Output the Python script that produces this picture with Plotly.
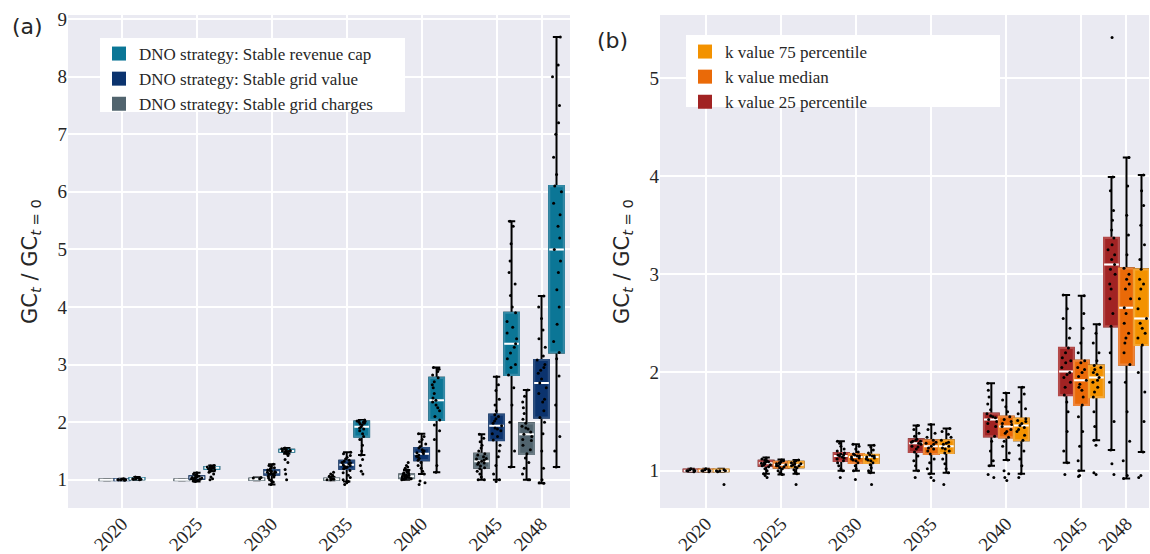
import plotly.graph_objects as go

# ---------------- data ----------------
years = [2020, 2025, 2030, 2035, 2040, 2045, 2048]
tick_labels = ["2020", "2025", "2030", "2035", "2040", "2045", "2048"]

# Panel (a) -- DNO strategy: Stable grid charges
charges_q1 = [0.995, 0.995, 1.00, 1.00, 1.03, 1.21, 1.45]
charges_med = [1.00, 1.00, 1.01, 1.01, 1.06, 1.32, 1.79]
charges_q3 = [1.005, 1.005, 1.02, 1.02, 1.09, 1.45, 1.98]
charges_lf = [0.99, 0.99, 0.99, 0.99, 1.00, 1.00, 1.00]
charges_uf = [1.01, 1.01, 1.04, 1.05, 1.17, 1.79, 2.56]
charges_pts = [
    [],
    [],
    [1.03, 1.04, 1.02],
    [1.0, 1.01, 1.02, 1.03, 1.06, 1.08, 1.1, 1.13, 1.01, 1.0],
    [1.0, 1.01, 1.02, 1.03, 1.03, 1.04, 1.05, 1.05, 1.06, 1.06, 1.07, 1.08, 1.08, 1.09,
     1.1, 1.11, 1.12, 1.14, 1.15, 1.17, 1.2, 1.22, 1.25, 1.3, 1.02, 1.04],
    [1.0, 1.0, 1.05, 1.1, 1.15, 1.19, 1.21, 1.24, 1.27, 1.3, 1.32, 1.34, 1.37, 1.4, 1.43,
     1.45, 1.5, 1.55, 1.6, 1.66, 1.72, 1.79, 1.29, 1.36],
    [1.0, 1.0, 1.1, 1.2, 1.3, 1.38, 1.45, 1.52, 1.6, 1.68, 1.75, 1.79, 1.83, 1.88, 1.93,
     1.98, 2.05, 2.15, 2.25, 2.35, 2.45, 2.56, 1.7, 1.9],
]

# Panel (a) -- DNO strategy: Stable grid value
value_q1 = [0.995, 1.02, 1.09, 1.19, 1.34, 1.69, 2.08]
value_med = [1.00, 1.04, 1.13, 1.26, 1.45, 1.94, 2.68]
value_q3 = [1.01, 1.06, 1.17, 1.33, 1.55, 2.13, 3.08]
value_lf = [0.99, 0.97, 0.92, 0.97, 1.10, 1.00, 0.94]
value_uf = [1.02, 1.12, 1.27, 1.48, 1.80, 2.79, 4.19]
value_pts = [
    [1.0, 1.0, 1.01, 1.0, 0.99, 1.01, 1.02, 1.0],
    [0.97, 0.98, 1.0, 1.01, 1.02, 1.02, 1.03, 1.04, 1.04, 1.05, 1.06, 1.07, 1.08, 1.1,
     1.12, 0.99, 1.03],
    [0.92, 0.96, 0.98, 1.0, 1.03, 1.06, 1.08, 1.09, 1.1, 1.11, 1.12, 1.13, 1.14, 1.15,
     1.16, 1.17, 1.19, 1.21, 1.23, 1.25, 1.27, 1.1, 1.13, 1.05],
    [0.92, 0.95, 0.97, 1.0, 1.04, 1.08, 1.12, 1.16, 1.19, 1.21, 1.23, 1.25, 1.26, 1.28,
     1.3, 1.32, 1.34, 1.36, 1.39, 1.42, 1.45, 1.48, 1.22, 1.29],
    [0.92, 0.95, 0.98, 1.1, 1.15, 1.2, 1.25, 1.3, 1.34, 1.37, 1.4, 1.43, 1.45, 1.47, 1.5,
     1.52, 1.55, 1.58, 1.62, 1.66, 1.7, 1.75, 1.8, 1.41, 1.48],
    [0.97, 1.0, 1.1, 1.25, 1.4, 1.5, 1.6, 1.69, 1.75, 1.8, 1.85, 1.9, 1.94, 1.98, 2.02,
     2.06, 2.1, 2.13, 2.2, 2.3, 2.4, 2.55, 2.65, 2.79, 1.88],
    [0.94, 0.95, 1.0, 1.2, 1.5, 1.8, 2.0, 2.08, 2.2, 2.35, 2.5, 2.6, 2.68, 2.75, 2.85,
     2.95, 3.0, 3.08, 3.15, 3.3, 3.45, 3.6, 3.8, 4.0, 4.19, 2.4, 2.9],
]

# Panel (a) -- DNO strategy: Stable revenue cap
revcap_q1 = [1.01, 1.19, 1.49, 1.75, 2.04, 2.82, 3.21]
revcap_med = [1.02, 1.21, 1.50, 1.92, 2.38, 3.36, 5.00]
revcap_q3 = [1.03, 1.22, 1.52, 2.01, 2.77, 3.90, 6.10]
revcap_lf = [1.00, 1.15, 1.45, 1.43, 1.13, 1.22, 1.22]
revcap_uf = [1.05, 1.25, 1.55, 2.04, 2.95, 5.49, 8.69]
revcap_pts = [
    [1.0, 1.01, 1.02, 1.03, 1.04, 1.05, 1.02, 1.01, 1.03],
    [1.0, 1.02, 1.05, 1.1, 1.13, 1.15, 1.17, 1.19, 1.2, 1.21, 1.21, 1.22, 1.22, 1.23,
     1.24, 1.25, 1.2, 1.18],
    [1.0, 1.1, 1.18, 1.3, 1.35, 1.42, 1.45, 1.47, 1.49, 1.5, 1.5, 1.51, 1.52, 1.53, 1.54,
     1.55, 1.5, 1.48],
    [1.1, 1.15, 1.25, 1.35, 1.43, 1.5, 1.6, 1.7, 1.75, 1.8, 1.85, 1.88, 1.92, 1.95, 1.98,
     2.0, 2.01, 2.02, 2.03, 2.04, 2.0, 1.97, 1.9],
    [1.13, 1.25, 1.5, 1.7, 1.85, 1.95, 2.04, 2.1, 2.2, 2.3, 2.35, 2.38, 2.42, 2.5, 2.6,
     2.7, 2.77, 2.82, 2.88, 2.92, 2.95, 2.93, 2.25, 2.65],
    [1.22, 1.5, 2.0, 2.3, 2.6, 2.82, 2.95, 3.1, 3.2, 3.3, 3.36, 3.45, 3.55, 3.65, 3.75,
     3.9, 4.0, 4.2, 4.4, 4.6, 4.8, 5.1, 5.4, 5.49, 3.0],
    [1.22, 1.5, 1.75, 2.3, 2.8, 3.1, 3.21, 3.4, 3.7, 4.0, 4.3, 4.6, 4.8, 5.0, 5.2, 5.4,
     5.6, 5.8, 6.0, 6.1, 6.3, 6.6, 7.0, 7.2, 7.5, 8.0, 8.2, 8.69],
]

# Panel (b) -- k value 25 percentile
k25_q1 = [0.995, 1.05, 1.10, 1.19, 1.35, 1.77, 2.47]
k25_med = [1.00, 1.075, 1.15, 1.28, 1.52, 2.01, 3.10]
k25_q3 = [1.01, 1.10, 1.18, 1.32, 1.58, 2.25, 3.37]
k25_lf = [0.99, 0.97, 1.00, 1.00, 1.05, 1.08, 1.21]
k25_uf = [1.02, 1.135, 1.30, 1.46, 1.89, 2.79, 3.99]
k25_pts = [
    [1.0, 1.0, 1.01, 0.99, 1.01, 1.0, 1.02],
    [0.93, 0.95, 0.97, 1.0, 1.02, 1.04, 1.05, 1.06, 1.07, 1.075, 1.08, 1.09, 1.1, 1.11,
     1.12, 1.13, 1.06, 1.09],
    [0.93, 1.0, 1.02, 1.05, 1.08, 1.1, 1.12, 1.14, 1.15, 1.16, 1.17, 1.18, 1.2, 1.22,
     1.25, 1.28, 1.3, 1.13, 1.16],
    [0.93, 1.0, 1.05, 1.1, 1.15, 1.19, 1.22, 1.25, 1.27, 1.28, 1.29, 1.3, 1.31, 1.32,
     1.35, 1.38, 1.42, 1.46, 1.24, 1.3],
    [0.93, 0.96, 1.05, 1.1, 1.2, 1.3, 1.35, 1.4, 1.45, 1.5, 1.52, 1.54, 1.56, 1.58, 1.62,
     1.68, 1.75, 1.82, 1.89, 1.48, 1.55],
    [0.96, 1.08, 1.2, 1.4, 1.6, 1.7, 1.77, 1.85, 1.9, 1.95, 2.0, 2.05, 2.1, 2.15, 2.2,
     2.25, 2.35, 2.45, 2.55, 2.65, 2.79, 1.98, 2.12],
    [0.96, 1.07, 1.21, 1.5, 1.9, 2.2, 2.47, 2.6, 2.75, 2.9, 3.0, 3.1, 3.15, 3.2, 3.25,
     3.3, 3.37, 3.45, 3.55, 3.65, 3.85, 3.99, 5.41, 2.85, 3.05],
]

# Panel (b) -- k value median
k50_q1 = [0.995, 1.03, 1.08, 1.17, 1.34, 1.67, 2.08]
k50_med = [1.00, 1.06, 1.14, 1.25, 1.45, 1.92, 2.66]
k50_q3 = [1.01, 1.09, 1.17, 1.31, 1.55, 2.12, 3.06]
k50_lf = [0.99, 0.96, 1.00, 0.97, 1.11, 1.00, 0.92]
k50_uf = [1.02, 1.115, 1.27, 1.47, 1.79, 2.78, 4.19]
k50_pts = [
    [1.0, 1.0, 1.01, 0.99, 1.0, 1.01, 1.02],
    [0.96, 0.98, 1.0, 1.02, 1.03, 1.04, 1.05, 1.06, 1.07, 1.08, 1.09, 1.1, 1.11, 1.05,
     1.07],
    [0.91, 1.0, 1.02, 1.05, 1.08, 1.1, 1.12, 1.13, 1.14, 1.15, 1.16, 1.17, 1.19, 1.22,
     1.25, 1.27, 1.11, 1.15],
    [0.9, 0.93, 0.97, 1.02, 1.08, 1.12, 1.17, 1.2, 1.23, 1.25, 1.27, 1.29, 1.31, 1.34,
     1.38, 1.42, 1.47, 1.22, 1.28],
    [0.9, 0.93, 0.97, 1.0, 1.11, 1.18, 1.25, 1.3, 1.34, 1.38, 1.42, 1.45, 1.48, 1.5, 1.52,
     1.55, 1.6, 1.65, 1.72, 1.79, 1.4, 1.47],
    [0.94, 0.95, 1.0, 1.1, 1.25, 1.4, 1.55, 1.67, 1.75, 1.82, 1.88, 1.92, 1.96, 2.0, 2.05,
     2.1, 2.12, 2.2, 2.3, 2.45, 2.6, 2.78, 1.85, 2.03],
    [0.92, 0.95, 1.1, 1.3, 1.6, 1.9, 2.08, 2.2, 2.35, 2.4, 2.5, 2.6, 2.66, 2.75, 2.85,
     2.95, 3.0, 3.06, 3.2, 3.4, 3.6, 3.9, 4.19, 2.3, 2.9],
]

# Panel (b) -- k value 75 percentile
k75_q1 = [0.995, 1.035, 1.08, 1.18, 1.31, 1.75, 2.28]
k75_med = [1.00, 1.06, 1.14, 1.25, 1.46, 1.95, 2.55]
k75_q3 = [1.01, 1.09, 1.16, 1.31, 1.53, 2.07, 3.05]
k75_lf = [0.99, 0.97, 0.98, 0.98, 0.97, 1.31, 1.19]
k75_uf = [1.02, 1.11, 1.26, 1.43, 1.85, 2.49, 4.01]
k75_pts = [
    [1.0, 1.0, 1.01, 0.99, 1.0, 0.86],
    [0.86, 0.97, 0.99, 1.01, 1.03, 1.04, 1.05, 1.06, 1.07, 1.08, 1.09, 1.1, 1.11, 1.05,
     1.07],
    [0.86, 0.98, 1.0, 1.03, 1.06, 1.08, 1.1, 1.12, 1.13, 1.14, 1.15, 1.16, 1.18, 1.21,
     1.24, 1.26, 1.11, 1.15],
    [0.86, 0.98, 1.02, 1.07, 1.12, 1.18, 1.2, 1.23, 1.25, 1.27, 1.29, 1.31, 1.34, 1.37,
     1.4, 1.43, 1.22, 1.28],
    [0.93, 0.97, 1.05, 1.12, 1.2, 1.26, 1.31, 1.36, 1.4, 1.44, 1.46, 1.48, 1.5, 1.53,
     1.58, 1.63, 1.7, 1.78, 1.85, 1.42, 1.51],
    [0.96, 0.98, 1.26, 1.31, 1.45, 1.6, 1.75, 1.8, 1.85, 1.9, 1.95, 1.98, 2.0, 2.03, 2.07,
     2.12, 2.2, 2.3, 2.4, 2.49, 1.92, 2.05],
    [0.93, 0.95, 1.19, 1.5, 1.8, 2.0, 2.28, 2.35, 2.45, 2.5, 2.55, 2.65, 2.75, 2.85, 2.95,
     3.05, 3.15, 3.3, 3.5, 3.7, 3.85, 4.01, 2.4, 2.9],
]

legend_a = ["DNO strategy: Stable revenue cap", "DNO strategy: Stable grid value",
            "DNO strategy: Stable grid charges"]
legend_b = ["k value 75 percentile", "k value median", "k value 25 percentile"]

# ---------------- styling ----------------
W, H = 1150, 554
BG = "#EAEAF2"
SERIF = "Liberation Serif"
SANS = "DejaVu Sans"
BOXW = 0.98


def px_x(p):
    return p / W


def px_y(p):
    return 1 - p / H


fig = go.Figure()


def add_series(xa, ya, offset, q1, med, q3, lf, uf, pts, color, edge):
    pos = [y + offset for y in years]
    common = dict(xaxis=xa, yaxis=ya, orientation="v", width=BOXW, boxpoints=False,
                  showlegend=False, hoverinfo="skip")
    # whiskers + caps (black)
    fig.add_trace(go.Box(x=pos, q1=q1, median=med, q3=q3, lowerfence=lf, upperfence=uf,
                         line=dict(color="black", width=2), fillcolor=color,
                         whiskerwidth=0.5, **common))
    # coloured box on top
    fig.add_trace(go.Box(x=pos, q1=q1, median=med, q3=q3, lowerfence=q1, upperfence=q3,
                         line=dict(color=edge, width=2.2), fillcolor=color,
                         whiskerwidth=0, **common))
    # white median
    fig.add_trace(go.Box(x=pos, q1=med, median=med, q3=med, lowerfence=med, upperfence=med,
                         line=dict(color="white", width=2), fillcolor="rgba(0,0,0,0)",
                         whiskerwidth=0, **common))
    # strip points
    xs, ys = [], []
    for p, vals in zip(pos, pts):
        xs += [p] * len(vals)
        ys += vals
    fig.add_trace(go.Box(x=xs, y=ys, xaxis=xa, yaxis=ya, boxpoints="all", jitter=0.75,
                         pointpos=0, width=BOXW, marker=dict(color="black", size=3),
                         line=dict(color="rgba(0,0,0,0)", width=0),
                         fillcolor="rgba(0,0,0,0)", showlegend=False, hoverinfo="skip"))


C_TEAL, C_NAVY, C_GRAY = "#0B7696", "#0B336E", "#51646E"
E_TEAL, E_NAVY, E_GRAY = "#3489A6", "#2B4E80", "#6C7C85"
C_Y, C_O, C_R = "#F39200", "#EA6A08", "#A12323"
E_Y, E_O, E_R = "#F5A633", "#EE8439", "#B44A4A"

add_series("x", "y", -1, charges_q1, charges_med, charges_q3, charges_lf, charges_uf,
           charges_pts, C_GRAY, E_GRAY)
add_series("x", "y", 0, value_q1, value_med, value_q3, value_lf, value_uf,
           value_pts, C_NAVY, E_NAVY)
add_series("x", "y", 1, revcap_q1, revcap_med, revcap_q3, revcap_lf, revcap_uf,
           revcap_pts, C_TEAL, E_TEAL)

add_series("x2", "y2", -1, k25_q1, k25_med, k25_q3, k25_lf, k25_uf, k25_pts, C_R, E_R)
add_series("x2", "y2", 0, k50_q1, k50_med, k50_q3, k50_lf, k50_uf, k50_pts, C_O, E_O)
add_series("x2", "y2", 1, k75_q1, k75_med, k75_q3, k75_lf, k75_uf, k75_pts, C_Y, E_Y)

# legend entries
for name, col in zip(legend_a, [C_TEAL, C_NAVY, C_GRAY]):
    fig.add_trace(go.Scatter(x=[None], y=[None], mode="markers", name=name,
                             marker=dict(symbol="square", size=14, color=col),
                             xaxis="x", yaxis="y", legend="legend"))
for name, col in zip(legend_b, [C_Y, C_O, C_R]):
    fig.add_trace(go.Scatter(x=[None], y=[None], mode="markers", name=name,
                             marker=dict(symbol="square", size=14, color=col),
                             xaxis="x2", yaxis="y2", legend="legend2"))

tickfont = dict(family=SERIF, size=19, color="#262626")
ytitle = dict(text="GC<sub><i>t</i></sub> / GC<sub><i>t</i> = 0</sub>",
              font=dict(family=SANS, size=21, color="#262626"), standoff=14)

xcommon = dict(tickmode="array", tickvals=years, ticktext=tick_labels, tickangle=-45,
               showgrid=True, gridcolor="white", gridwidth=1.5, zeroline=False,
               showline=False, ticks="", tickfont=tickfont, automargin=False)
ycommon = dict(showgrid=True, gridcolor="white", gridwidth=1.5, zeroline=False,
               showline=False, ticks="", tickfont=tickfont, title=ytitle,
               automargin=False)

legcommon = dict(xanchor="left", yanchor="top", bgcolor="rgba(0,0,0,0)",
                 font=dict(family=SERIF, size=17, color="#262626"), tracegroupgap=0,
                 itemclick=False, itemdoubleclick=False)

fig.update_layout(
    width=W, height=H,
    margin=dict(l=0, r=0, t=0, b=0, autoexpand=False),
    paper_bgcolor="white", plot_bgcolor=BG,
    boxmode="overlay",
    xaxis=dict(domain=[px_x(68), px_x(570)], range=[2016.4, 2049.9], anchor="y", **xcommon),
    yaxis=dict(domain=[px_y(508), px_y(15)], range=[0.51, 9.07], anchor="x",
               tickvals=[1, 2, 3, 4, 5, 6, 7, 8, 9], **ycommon),
    xaxis2=dict(domain=[px_x(660), px_x(1149)], range=[2016.93, 2049.5], anchor="y2",
                **xcommon),
    yaxis2=dict(domain=[px_y(508), px_y(15)], range=[0.62, 5.64], anchor="x2",
                tickvals=[1, 2, 3, 4, 5], **ycommon),
    legend=dict(x=px_x(99), y=px_y(36), **legcommon),
    legend2=dict(x=px_x(685), y=px_y(34), **legcommon),
    shapes=[
        dict(type="rect", xref="paper", yref="paper", x0=px_x(100), x1=px_x(405),
             y0=px_y(112), y1=px_y(38), fillcolor="white", line=dict(width=0),
             layer="above"),
        dict(type="rect", xref="paper", yref="paper", x0=px_x(686), x1=px_x(1000),
             y0=px_y(107), y1=px_y(35), fillcolor="white", line=dict(width=0),
             layer="above"),
    ],
    annotations=[
        dict(text="(a)", xref="paper", yref="paper", x=px_x(10), y=px_y(26),
             xanchor="left", yanchor="middle", showarrow=False,
             font=dict(family=SANS, size=22, color="#262626")),
        dict(text="(b)", xref="paper", yref="paper", x=px_x(595), y=px_y(40),
             xanchor="left", yanchor="middle", showarrow=False,
             font=dict(family=SANS, size=22, color="#262626")),
    ],
)

fig.write_html("out.html", config={"displayModeBar": False},
               post_script="document.body.style.margin='0px';"
                           "document.body.style.overflow='hidden';")
